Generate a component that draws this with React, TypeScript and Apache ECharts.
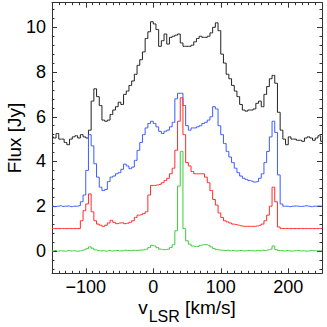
import React, { useEffect, useRef } from 'react';
import * as echarts from 'echarts';

// Channel velocities (km/s)
const velocity = [
  -150, -146, -142, -138, -134, -130, -126, -122, -118, -114, -110, -106, -102, -98, -94, -90, -86, -82, -78, -74,
  -70, -66, -62, -58, -54, -50, -46, -42, -38, -34, -30, -26, -22, -18, -14, -10, -6, -2, 2, 6,
  10, 14, 18, 22, 26, 30, 34, 38, 42, 46, 50, 54, 58, 62, 66, 70, 74, 78, 82, 86,
  90, 94, 98, 102, 106, 110, 114, 118, 122, 126, 130, 134, 138, 142, 146, 150, 154, 158, 162, 166,
  170, 174, 178, 182, 186, 190, 194, 198, 202, 206, 210, 214, 218, 222, 226, 230, 234, 238, 242, 246, 250,
];

// Fluxes (Jy), spectra offset as in the plot
const fluxBlack = [
  5.1, 5.05, 5.25, 5.0, 5.0, 4.85, 4.75, 5.0, 5.1, 5.15, 5.05, 5.2, 5.1, 5.05, 5.4, 6.7, 7.25, 6.9, 6.5, 5.85,
  5.8, 5.85, 6.1, 6.3, 6.45, 6.65, 6.55, 7.0, 7.15, 7.4, 7.6, 7.9, 8.3, 8.55, 8.9, 9.5, 9.8, 10.25, 10.15, 9.9,
  9.15, 9.4, 9.7, 9.25, 9.55, 9.6, 9.65, 9.7, 9.3, 9.15, 9.15, 9.15, 9.2, 9.35, 9.5, 9.6, 9.55, 9.55, 9.6, 9.75,
  10.0, 10.2, 9.85, 8.8, 8.4, 7.9, 7.7, 7.4, 7.15, 6.9, 6.55, 6.3, 6.25, 6.3, 6.3, 6.35, 6.6, 6.7, 6.45, 7.0,
  7.35, 7.7, 7.85, 7.5, 6.2, 5.4, 5.0, 4.75, 5.1, 5.0, 5.0, 4.95, 4.95, 4.9, 5.05, 5.1, 5.05, 4.95, 5.05, 5.15, 4.9,
];

const fluxBlue = [
  2.0, 1.98, 2.0, 2.02, 1.99, 2.0, 2.01, 1.98, 2.0, 2.0, 2.02, 2.2, 2.5, 3.6, 5.2, 4.7, 3.9, 3.3, 2.85, 2.7,
  2.75, 3.1, 3.3, 3.35, 3.45, 3.5, 3.65, 3.88, 3.8, 3.68, 3.75, 4.05, 4.5, 4.85, 5.2, 5.5, 5.7, 5.8, 5.7, 5.55,
  5.35, 5.25, 5.35, 5.4, 5.55, 5.75, 6.8, 7.05, 7.05, 6.5, 5.6, 5.4, 5.5, 5.5, 5.55, 5.6, 5.7, 5.75, 5.85, 6.0,
  6.45, 6.35, 5.6, 5.2, 4.8, 4.45, 4.2, 3.95, 3.7, 3.5, 3.35, 3.25, 3.2, 3.15, 3.12, 3.08, 3.1, 3.25, 3.45, 3.95,
  4.45, 5.1, 5.8, 5.3, 3.4, 2.1, 2.0, 2.0, 1.98, 2.0, 2.01, 2.0, 1.99, 2.0, 2.02, 2.0, 1.98, 2.0, 2.0, 2.01, 1.99,
];

const fluxRed = [
  1.0, 1.0, 1.0, 1.0, 1.0, 1.0, 1.0, 1.0, 1.0, 1.0, 1.0, 1.35, 1.8, 2.1, 2.55, 1.75, 1.35, 1.2, 1.15, 1.1,
  1.15, 1.25, 1.37, 1.28, 1.22, 1.25, 1.26, 1.22, 1.24, 1.28, 1.35, 1.5, 1.6, 1.62, 1.67, 1.75, 2.5, 2.93, 2.93, 2.95,
  2.98, 3.05, 3.15, 3.25, 3.45, 3.7, 4.5, 5.8, 6.85, 5.2, 3.95, 3.8, 3.55, 3.45, 3.45, 3.45, 3.45, 3.3, 3.05, 2.7,
  2.3, 2.05, 1.7, 1.5, 1.35, 1.3, 1.25, 1.2, 1.18, 1.15, 1.12, 1.1, 1.1, 1.1, 1.1, 1.1, 1.12, 1.15, 1.2, 1.35,
  1.6, 2.0, 2.85, 2.2, 1.07, 1.0, 1.0, 1.0, 1.0, 1.0, 1.0, 1.0, 1.0, 1.0, 1.0, 1.0, 1.0, 1.0, 1.0, 1.0, 1.0,
];

const fluxGreen = [
  0.0, 0.02, -0.01, 0.01, 0.0, -0.01, 0.02, 0.0, 0.01, -0.01, 0.0, 0.03, 0.05, 0.1, 0.18, 0.12, 0.05, 0.02, 0.0, 0.01,
  -0.01, 0.02, 0.0, 0.01, 0.02, 0.0, 0.01, 0.03, 0.02, 0.01, 0.03, 0.02, 0.03, 0.04, 0.05, 0.08, 0.15, 0.25, 0.22, 0.15,
  0.08, 0.06, 0.06, 0.08, 0.15, 0.28, 0.9, 2.9, 4.45, 1.0, 0.45, 0.3, 0.22, 0.2, 0.2, 0.25, 0.28, 0.28, 0.25, 0.18,
  0.1, 0.06, 0.04, 0.03, 0.02, 0.03, 0.01, 0.02, 0.0, 0.01, 0.02, 0.0, 0.01, 0.02, 0.01, 0.0, 0.02, 0.01, 0.03, 0.02,
  0.05, 0.08, 0.22, 0.06, 0.02, 0.01, 0.0, 0.02, 0.0, -0.01, 0.01, 0.02, 0.0, 0.01, -0.01, 0.0, 0.02, 0.01, 0.0, 0.01, 0.0,
];

// Axis ticks
const xMajorTicks = [-100, 0, 100, 200];
const xMinorTicks = [
  -150, -140, -130, -120, -110, -100, -90, -80, -70, -60, -50, -40, -30, -20, -10, 0, 10, 20, 30, 40,
  50, 60, 70, 80, 90, 100, 110, 120, 130, 140, 150, 160, 170, 180, 190, 200, 210, 220, 230, 240, 250,
];
const yMajorTicks = [0, 2, 4, 6, 8, 10];
const yMinorTicks = [
  -0.8, -0.4, 0, 0.4, 0.8, 1.2, 1.6, 2, 2.4, 2.8, 3.2, 3.6, 4, 4.4, 4.8, 5.2, 5.6, 6, 6.4, 6.8,
  7.2, 7.6, 8, 8.4, 8.8, 9.2, 9.6, 10, 10.4, 10.8,
];

const X_MIN = -150;
const X_MAX = 250;
const Y_MIN = -1;
const Y_MAX = 11.1;

const FONT = '"Liberation Sans", Arial, Helvetica, sans-serif';
const FRAME = '#333';

export default function App() {
  const ref = useRef<HTMLDivElement>(null);

  useEffect(() => {
    document.body.style.margin = '0';
    if (!ref.current) return;
    const chart = echarts.init(ref.current, undefined, { renderer: 'svg' });

    const gridBox = { left: 52, right: 5, top: 2.7, bottom: 53.7, containLabel: false, outerBoundsMode: 'none' };
    const lineStyle = { color: FRAME, width: 1 };

    const makeX = (grid: number, position: 'top' | 'bottom', major: boolean, extra: any = {}) => ({
      type: 'value',
      gridIndex: grid,
      position,
      min: X_MIN,
      max: X_MAX,
      axisLine: { show: major, onZero: false, lineStyle },
      axisTick: {
        show: true,
        inside: true,
        length: major ? 5 : 2.5,
        customValues: major ? xMajorTicks : xMinorTicks,
        lineStyle,
      },
      axisLabel: { show: false },
      splitLine: { show: false },
      ...extra,
    });

    const makeY = (grid: number, position: 'left' | 'right', major: boolean, extra: any = {}) => ({
      type: 'value',
      gridIndex: grid,
      position,
      min: Y_MIN,
      max: Y_MAX,
      axisLine: { show: major, onZero: false, lineStyle },
      axisTick: {
        show: true,
        inside: true,
        length: major ? 5 : 2.5,
        customValues: major ? yMajorTicks : yMinorTicks,
        lineStyle,
      },
      axisLabel: { show: false },
      splitLine: { show: false },
      ...extra,
    });

    const mkSeries = (vals: number[], color: string) => ({
      type: 'line',
      xAxisIndex: 0,
      yAxisIndex: 0,
      step: 'middle',
      showSymbol: false,
      symbol: 'none',
      silent: true,
      lineStyle: { color, width: 1 },
      data: velocity.map((v, i) => [v, vals[i]]),
    });

    chart.setOption({
      animation: false,
      textStyle: { fontFamily: FONT, color: '#000' },
      grid: [gridBox, gridBox],
      xAxis: [
        makeX(0, 'bottom', true, {
          axisLabel: {
            show: true,
            customValues: xMajorTicks,
            margin: 6,
            fontSize: 18,
            lineHeight: 16,
            fontFamily: FONT,
            color: '#000',
            formatter: (v: number) => (v < 0 ? '\u2212' + Math.abs(v) : String(v)),
          },
          name: '{a|v}{b|LSR}{a| [km/s]}',
          nameLocation: 'middle',
          nameGap: 25,
          nameMoveOverlap: false,
          nameTextStyle: {
            rich: {
              a: { fontSize: 19, lineHeight: 16, fontFamily: FONT, color: '#000', verticalAlign: 'top' },
              b: { fontSize: 16, lineHeight: 16, fontFamily: FONT, color: '#000', verticalAlign: 'top', padding: [10, 0, 0, 1] },
            },
          },
        }),
        makeX(0, 'top', true),
        makeX(1, 'bottom', false),
        makeX(1, 'top', false),
      ],
      yAxis: [
        makeY(0, 'left', true, {
          axisLabel: {
            show: true,
            customValues: yMajorTicks,
            margin: 6,
            fontSize: 18,
            fontFamily: FONT,
            color: '#000',
          },
          name: 'Flux [Jy]',
          nameLocation: 'middle',
          nameGap: 28,
          nameMoveOverlap: false,
          nameTextStyle: { fontSize: 19, fontFamily: FONT, color: '#000' },
        }),
        makeY(0, 'right', true),
        makeY(1, 'left', false),
        makeY(1, 'right', false),
      ],
      series: [
        mkSeries(fluxBlack, '#222222'),
        mkSeries(fluxBlue, '#3b5bff'),
        mkSeries(fluxRed, '#ff2b2b'),
        mkSeries(fluxGreen, '#3ccc3c'),
      ],
    });

    return () => chart.dispose();
  }, []);

  return <div ref={ref} style={{ width: 327, height: 327 }} />;
}
